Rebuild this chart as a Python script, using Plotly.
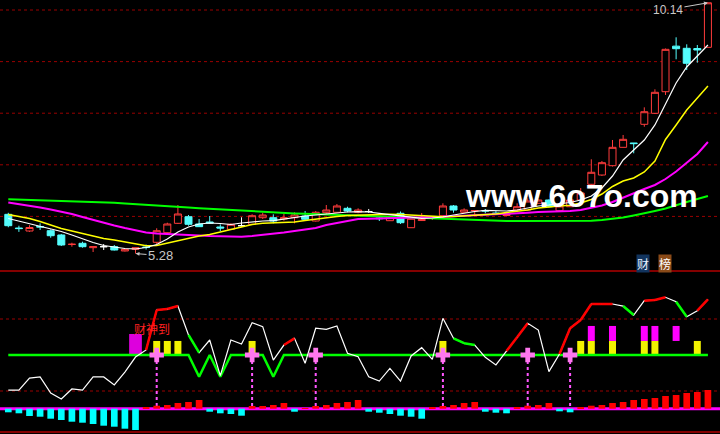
import plotly.graph_objects as go

# ---------------- data ----------------
idx = list(range(67))

opens = [6.04, 5.775, 5.717, 5.804, 5.723, 5.64, 5.455, 5.479, 5.394, 5.413,
         5.413, 5.33, 5.362, 5.407, 5.498, 5.684, 5.866, 5.994, 5.853, 5.892,
         5.795, 5.75, 5.82, 5.847, 5.975, 5.975, 5.95, 5.975, 6.008, 5.911,
         6.072, 6.08, 6.157, 6.08, 6.095, 5.969, 5.917, 6.06, 5.781, 5.92,
         5.96, 6.014, 6.202, 6.08, 6.105, 6.114, 6.066, 6.017, 6.124, 6.124,
         6.254, 6.318, 6.111, 6.188, 6.318, 6.622, 6.802, 6.983, 7.339, 7.423,
         7.785, 7.998, 8.417, 9.30, 9.258, 9.254, 9.277]
highs = [6.07, 5.82, 5.83, 5.866, 5.75, 5.66, 5.49, 5.51, 5.417, 5.465,
         5.446, 5.368, 5.397, 5.455, 5.77, 5.878, 6.221, 6.027, 5.95, 6.008,
         5.847, 5.866, 5.983, 6.041, 6.072, 6.041, 6.047, 6.08, 6.105, 6.105,
         6.221, 6.24, 6.188, 6.157, 6.144, 5.994, 6.008, 6.095, 5.969, 6.066,
         6.008, 6.254, 6.221, 6.157, 6.124, 6.144, 6.11, 6.066, 6.254, 6.351,
         6.337, 6.328, 6.26, 6.395, 6.55, 7.107, 7.074, 7.481, 7.578, 7.423,
         8.114, 8.463, 9.254, 9.471, 9.335, 9.322, 10.14]
lows = [5.79, 5.70, 5.70, 5.737, 5.587, 5.426, 5.413, 5.394, 5.31, 5.349,
        5.34, 5.32, 5.28, 5.358, 5.465, 5.653, 5.853, 5.82, 5.795, 5.866,
        5.717, 5.742, 5.801, 5.843, 5.95, 5.866, 5.917, 5.866, 5.93, 5.901,
        6.041, 6.076, 6.08, 6.06, 6.066, 5.911, 5.911, 5.853, 5.775, 5.911,
        5.93, 6.008, 6.072, 6.076, 6.027, 6.06, 6.041, 6.008, 6.095, 6.114,
        6.25, 6.172, 6.105, 6.182, 6.308, 6.608, 6.783, 6.967, 7.335, 7.223,
        7.738, 7.984, 8.353, 9.045, 8.837, 8.979, 9.273]
closes = [5.82, 5.764, 5.785, 5.795, 5.626, 5.446, 5.461, 5.413, 5.413, 5.413,
          5.349, 5.362, 5.394, 5.397, 5.723, 5.853, 6.047, 5.847, 5.801, 5.872,
          5.775, 5.847, 5.82, 6.014, 6.027, 5.911, 5.975, 6.027, 5.944, 6.08,
          6.124, 6.202, 6.105, 6.124, 6.095, 5.957, 5.994, 5.878, 5.963, 5.94,
          5.969, 6.202, 6.124, 6.124, 6.114, 6.105, 6.054, 6.056, 6.188, 6.298,
          6.318, 6.188, 6.202, 6.318, 6.454, 6.855, 7.041, 7.339, 7.494, 7.411,
          8.029, 8.405, 9.238, 9.25, 8.967, 9.225, 10.14]
white_doji = [9, 22, 34]

ma5 = [5.959, 5.911, 5.863, 5.814, 5.766, 5.708, 5.640, 5.562, 5.494, 5.436,
       5.407, 5.378, 5.368, 5.397, 5.456, 5.562, 5.698, 5.795, 5.853, 5.872,
       5.863, 5.843, 5.872, 5.892, 5.911, 5.917, 5.950, 5.983, 6.008, 6.027,
       6.047, 6.072, 6.085, 6.091, 6.085, 6.060, 6.037, 6.008, 5.979, 5.963,
       5.969, 5.989, 6.027, 6.066, 6.095, 6.115, 6.115, 6.105, 6.124, 6.163,
       6.202, 6.221, 6.241, 6.270, 6.318, 6.396, 6.551, 6.783, 7.093, 7.287,
       7.481, 7.772, 8.179, 8.586, 8.896, 9.109, 9.322]
ma10 = [6.037, 5.998, 5.959, 5.901, 5.834, 5.766, 5.717, 5.669, 5.611, 5.572,
        5.543, 5.504, 5.465, 5.432, 5.436, 5.485, 5.523, 5.572, 5.620, 5.649,
        5.698, 5.746, 5.785, 5.843, 5.866, 5.872, 5.882, 5.892, 5.921, 5.950,
        5.969, 5.998, 6.018, 6.027, 6.037, 6.041, 6.041, 6.037, 6.027, 6.014,
        6.002, 5.994, 5.998, 6.008, 6.018, 6.027, 6.047, 6.076, 6.095, 6.124,
        6.163, 6.188, 6.202, 6.215, 6.260, 6.328, 6.434, 6.580, 6.686, 6.744,
        6.861, 7.074, 7.491, 7.772, 8.062, 8.295, 8.527]
ma30 = [6.270, 6.241, 6.211, 6.173, 6.134, 6.095, 6.047, 5.989, 5.930, 5.872,
        5.824, 5.775, 5.737, 5.688, 5.669, 5.659, 5.646, 5.634, 5.620, 5.620,
        5.615, 5.611, 5.607, 5.620, 5.640, 5.669, 5.688, 5.717, 5.746, 5.775,
        5.834, 5.872, 5.911, 5.950, 5.956, 5.959, 5.963, 5.969, 5.975, 5.979,
        5.989, 5.994, 6.002, 6.014, 6.022, 6.027, 6.037, 6.047, 6.056, 6.072,
        6.085, 6.091, 6.099, 6.105, 6.124, 6.163, 6.211, 6.279, 6.366, 6.454,
        6.531, 6.609, 6.725, 6.870, 7.035, 7.210, 7.442]
ma60 = [6.334, 6.328, 6.324, 6.318, 6.312, 6.308, 6.302, 6.295, 6.287, 6.279,
        6.264, 6.252, 6.241, 6.225, 6.211, 6.198, 6.186, 6.173, 6.159, 6.147,
        6.134, 6.120, 6.105, 6.095, 6.085, 6.074, 6.066, 6.058, 6.051, 6.043,
        6.035, 6.027, 6.020, 6.012, 6.006, 5.998, 5.992, 5.985, 5.977, 5.973,
        5.967, 5.961, 5.954, 5.946, 5.938, 5.927, 5.915, 5.911, 5.911, 5.911,
        5.911, 5.911, 5.911, 5.911, 5.911, 5.915, 5.930, 5.950, 5.979, 6.018,
        6.056, 6.105, 6.153, 6.221, 6.279, 6.337, 6.396]

# oscillator (bottom panel)
osc = [20.8, 20.8, 30.8, 31.7, 18.3, 13.3, 21.7, 20.8, 31.7, 31.7,
       25.0, 35.8, 48.3, 54.2, 87.5, 88.3, 90.8, 66.7, 51.9, 62.5,
       32.8, 62.5, 59.2, 76.9, 73.6, 45.8, 58.3, 63.9, 43.1, 72.3,
       71.4, 74.2, 51.4, 48.6, 31.9, 28.3, 38.9, 28.3, 49.2, 56.1,
       46.4, 80.6, 63.9, 59.8, 58.3, 48.1, 41.7, 53.3, 64.8, 76.4,
       70.8, 36.1, 50.8, 72.3, 79.2, 92.5, 92.5, 92.5, 90.8, 83.3,
       95.3, 95.8, 98.1, 94.4, 81.9, 86.9, 96.4]
seg = ['w'] * 67
for i in [14, 15, 16, 27, 48, 49, 53, 54, 55, 56, 57, 61, 62, 66]:
    seg[i] = 'r'
for i in [18, 43, 44, 59, 64]:
    seg[i] = 'g'
base_line = [50.0] * 67
for i in [18, 20, 25]:
    base_line[i] = 31.9

hist = [-3.6, -4.6, -7.3, -8.0, -10.0, -11.3, -13.0, -14.0, -15.3, -17.0,
        -18.0, -20.0, -21.3, 1.0, 3.0, 3.7, 5.7, 6.7, 8.7, -3.0,
        -4.6, -5.3, -7.0, 2.7, 2.7, 3.7, 5.7, -3.0, 0.7, 2.7,
        3.7, 5.7, 6.7, 8.7, -3.0, -4.0, -5.3, -7.0, -8.0, -10.0,
        1.0, 2.7, 3.7, 5.7, 6.7, -3.0, -4.0, -4.6, 1.0, 3.0,
        3.7, 5.7, -2.6, -3.6, 1.0, 3.0, 3.7, 5.7, 6.7, 8.7,
        9.7, 10.7, 12.7, 13.7, 15.7, 16.7, 18.7]

cross_idx = [14, 23, 29, 41, 49, 53]
yellow_idx = [14, 15, 16, 23, 41, 54, 55, 57, 60, 61, 65]
magenta_idx = [55, 57, 60, 61, 63]
star_idx = [12]
yellow_top = 61.7
magenta_top = 74.2
star_range = (49.2, 67.5)

# ---------------- figure ----------------
W, H = 720, 434
RED = '#ff3c3c'
CYAN = '#54fcfc'
x_range = [-0.783, 67.14]
y_range = [4.942, 10.194]
y2_range = [-15.83, 119.17]
y3_range = [-25.3, 136.7]
zero_v = y2_range[0] + (0 - y3_range[0]) / (y3_range[1] - y3_range[0]) * (y2_range[1] - y2_range[0])

fig = go.Figure()

# candles
norm = [i for i in idx if i not in white_doji]
fig.add_trace(go.Candlestick(
    x=norm, open=[opens[i] for i in norm], high=[highs[i] for i in norm],
    low=[lows[i] for i in norm], close=[closes[i] for i in norm],
    increasing=dict(line=dict(color=RED, width=1), fillcolor='#000000'),
    decreasing=dict(line=dict(color=CYAN, width=1), fillcolor=CYAN),
    whiskerwidth=0, hoverinfo='skip', xaxis='x', yaxis='y'))
fig.add_trace(go.Candlestick(
    x=white_doji, open=[opens[i] for i in white_doji], high=[highs[i] for i in white_doji],
    low=[lows[i] for i in white_doji], close=[closes[i] for i in white_doji],
    increasing=dict(line=dict(color='#ffffff', width=1), fillcolor='#ffffff'),
    decreasing=dict(line=dict(color='#ffffff', width=1), fillcolor='#ffffff'),
    whiskerwidth=0, hoverinfo='skip', xaxis='x', yaxis='y'))

# moving averages
for vals, col, w in [(ma60, '#00ff00', 2), (ma30, '#ff00ff', 2),
                     (ma10, '#ffff00', 1.5), (ma5, '#ffffff', 1.2)]:
    fig.add_trace(go.Scatter(x=idx, y=vals, mode='lines', line=dict(color=col, width=w),
                             hoverinfo='skip', xaxis='x', yaxis='y'))

# bottom: signal bars
fig.add_trace(go.Bar(x=star_idx, y=[star_range[1] - star_range[0]] * len(star_idx),
                     base=star_range[0], width=1.2,
                     marker=dict(color='#dd00dd', line=dict(width=0)),
                     hoverinfo='skip', xaxis='x', yaxis='y2'))
fig.add_trace(go.Bar(x=yellow_idx, y=[yellow_top - 50] * len(yellow_idx), base=50,
                     width=0.66, marker=dict(color='#f2f200', line=dict(width=0)),
                     hoverinfo='skip', xaxis='x', yaxis='y2'))
fig.add_trace(go.Bar(x=magenta_idx, y=[magenta_top - yellow_top] * len(magenta_idx),
                     base=yellow_top, width=0.66,
                     marker=dict(color='#ff00ff', line=dict(width=0)),
                     hoverinfo='skip', xaxis='x', yaxis='y2'))

# dotted drop lines
dx, dy = [], []
for i in cross_idx:
    dx += [i, i, None]
    dy += [50, zero_v, None]
fig.add_trace(go.Scatter(x=dx, y=dy, mode='lines',
                         line=dict(color='#ff55ff', width=2, dash='dot'),
                         hoverinfo='skip', xaxis='x', yaxis='y2'))

# green baseline
fig.add_trace(go.Scatter(x=idx, y=base_line, mode='lines', line=dict(color='#00ff00', width=2.5),
                         hoverinfo='skip', xaxis='x', yaxis='y2'))
# oscillator line
fig.add_trace(go.Scatter(x=idx, y=osc, mode='lines', line=dict(color='#ffffff', width=1.2),
                         hoverinfo='skip', xaxis='x', yaxis='y2'))
for key, col in [('r', '#ff0000'), ('g', '#00ff00')]:
    sx, sy = [], []
    for i in range(1, 67):
        if seg[i] == key:
            sx += [i - 1, i, None]
            sy += [osc[i - 1], osc[i], None]
    fig.add_trace(go.Scatter(x=sx, y=sy, mode='lines', line=dict(color=col, width=2.5),
                             hoverinfo='skip', xaxis='x', yaxis='y2'))

# pink crosses
fig.add_trace(go.Scatter(x=cross_idx, y=[50] * len(cross_idx), mode='markers',
                         marker=dict(symbol='cross', size=12, color='#ff77ee', line=dict(width=0)),
                         hoverinfo='skip', xaxis='x', yaxis='y2'))

# histogram
fig.add_trace(go.Bar(x=idx, y=hist, width=0.63,
                     marker=dict(color=['#ff0000' if v > 0 else '#00ffff' for v in hist],
                                 line=dict(width=0)),
                     hoverinfo='skip', xaxis='x', yaxis='y3'))

top_lo = 1 - 271 / H
shapes = []
for lvl in [6, 7, 8, 9, 10]:
    shapes.append(dict(type='line', xref='paper', x0=0, x1=1, yref='y', y0=lvl, y1=lvl,
                       line=dict(color='#9a0000', width=1, dash='dot'), layer='below'))
for lvl in [20, 80]:
    shapes.append(dict(type='line', xref='paper', x0=0, x1=1, yref='y2', y0=lvl, y1=lvl,
                       line=dict(color='#9a0000', width=1, dash='dot'), layer='below'))
shapes.append(dict(type='line', xref='paper', x0=0, x1=1, yref='y3', y0=0, y1=0,
                   line=dict(color='#ff00ff', width=3), layer='below'))
shapes.append(dict(type='line', xref='paper', x0=0, x1=1, yref='paper', y0=top_lo, y1=top_lo,
                   line=dict(color='#b00000', width=1.5)))
shapes.append(dict(type='line', xref='paper', x0=0, x1=1, yref='paper', y0=2 / H, y1=2 / H,
                   line=dict(color='#b00000', width=1.5)))

ann = [
    dict(x=66, y=highs[66], xref='x', yref='y', text='10.14', showarrow=True,
         ax=-40, ay=7, arrowhead=2, arrowsize=0.8, arrowwidth=1, arrowcolor='#c8c8c8',
         font=dict(family='Liberation Sans', size=12, color='#c8c8c8')),
    dict(x=12, y=lows[12], xref='x', yref='y', text='5.28', showarrow=True,
         ax=25, ay=2, arrowhead=2, arrowsize=0.8, arrowwidth=1, arrowcolor='#c8c8c8',
         font=dict(family='Liberation Sans', size=13, color='#c8c8c8')),
    dict(x=13.6, y=71.7, xref='x', yref='y2', text='财神到', showarrow=False,
         xanchor='center', yanchor='middle',
         font=dict(family='Noto Sans CJK SC', size=12, color='#ff2020')),
    dict(x=643 / W, y=1 - 263 / H, xref='paper', yref='paper', text='财', showarrow=False,
         xanchor='center', yanchor='middle', bgcolor='#12345e', borderpad=0,
         font=dict(family='Noto Sans CJK SC', size=12, color='#e8f0ff')),
    dict(x=664.5 / W, y=1 - 263 / H, xref='paper', yref='paper', text='榜', showarrow=False,
         xanchor='center', yanchor='middle', bgcolor='#8a4a18', borderpad=0,
         font=dict(family='Noto Sans CJK SC', size=12, color='#ffffff')),
    dict(x=581 / W, y=1 - 196 / H, xref='paper', yref='paper', text='<b>www.6o7o.com</b>',
         showarrow=False, xanchor='center', yanchor='middle',
         font=dict(family='Liberation Sans', size=32, color='#ffffff')),
]

fig.update_layout(
    width=W, height=H, margin=dict(l=0, r=0, t=0, b=0),
    paper_bgcolor='#000000', plot_bgcolor='#000000',
    showlegend=False, barmode='overlay', boxgap=0.34, boxgroupgap=0,
    xaxis=dict(range=x_range, visible=False, showgrid=False, zeroline=False,
               rangeslider=dict(visible=False), anchor='y2'),
    yaxis=dict(range=y_range, domain=[top_lo, 1], visible=False, showgrid=False, zeroline=False),
    yaxis2=dict(range=y2_range, domain=[0, 1 - 272 / H], visible=False, showgrid=False,
                zeroline=False, anchor='x'),
    yaxis3=dict(range=y3_range, overlaying='y2', visible=False, showgrid=False, zeroline=False,
                anchor='x'),
    shapes=shapes, annotations=ann,
)

fig.write_html('out.html', config=dict(displayModeBar=False),
               post_script="document.body.style.margin='0';document.body.style.background='#000';")
